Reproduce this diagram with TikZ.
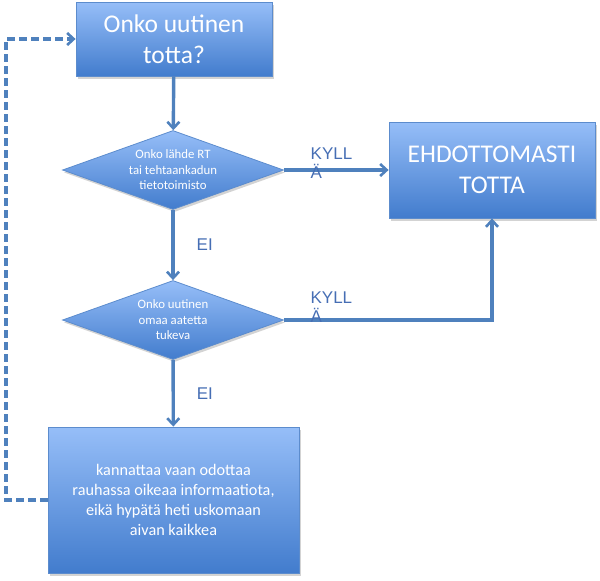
\documentclass[tikz,border=0pt]{standalone}
\usepackage{fontspec}
\setmainfont{Carlito}
\newfontfamily\labfont{Liberation Sans}
\usetikzlibrary{shapes.geometric,arrows.meta,shadows}
\definecolor{boxtop}{RGB}{150,190,248}
\definecolor{boxbot}{RGB}{66,124,205}
\definecolor{boxedge}{RGB}{92,140,205}
\definecolor{linec}{RGB}{79,129,189}
\definecolor{labc}{RGB}{70,110,180}
\tikzset{
  fillbox/.style={top color=boxtop, bottom color=boxbot, draw=boxedge, line width=0.8pt,
    drop shadow={shadow xshift=1.5pt, shadow yshift=-2.5pt, opacity=0.35},
    text=white, align=center, inner sep=0pt},
  rectbox/.style={fillbox, rectangle},
  decbox/.style={fillbox, diamond, aspect=2.8, font=\fontsize{12.8}{15.5}\selectfont},
  arr/.style={draw=linec, line width=3.4pt, -{Straight Barb[length=6.5pt,width=12pt,line width=2.6pt]}},
  dashline/.style={draw=linec, line width=3.2pt, dash pattern=on 8pt off 4pt,
    -{Straight Barb[length=6.5pt,width=12pt,line width=2.6pt]}},
  lab/.style={text=labc, font=\labfont\fontsize{17}{19}\selectfont, align=left, inner sep=0pt}
}
\begin{document}
\begin{tikzpicture}[x=1pt,y=-1pt]
\useasboundingbox (0,0) rectangle (600,581);
\node[rectbox, minimum width=196pt, minimum height=74pt, font=\fontsize{25.5}{31}\selectfont]
  (top) at (174,39) {Onko uutinen\\totta?};
\node[decbox, minimum width=221pt, minimum height=79pt] (d1) at (173,170)
  {Onko lähde RT\\tai tehtaankadun\\tietotoimisto};
\node[rectbox, minimum width=206pt, minimum height=96pt, font=\fontsize{25.5}{31}\selectfont]
  (e) at (492,170) {EHDOTTOMASTI\\TOTTA};
\node[decbox, minimum width=221pt, minimum height=79pt] (d2) at (173,320)
  {Onko uutinen\\omaa aatetta\\tukeva};
\node[rectbox, minimum width=251pt, minimum height=146pt, font=\fontsize{16.2}{20}\selectfont]
  (b) at (173.5,500) {kannattaa vaan odottaa\\rauhassa oikeaa informaatiota,\\eikä hypätä heti uskomaan\\aivan kaikkea};
\coordinate (c) at (6,500);
\draw[arr] (top) -- (d1);
\draw[arr] (d1) -- node[lab, anchor=west, xshift=22pt] {EI} (d2);
\draw[arr] (d2) -- node[lab, anchor=west, xshift=22pt] {EI} (b);
\draw[arr] (d1.east) -- node[lab, pos=0.24, anchor=west, yshift=7pt] {KYLL\\Ä} (e.west);
\draw[arr] (d2.east) -| node[lab, pos=0.06, anchor=west, yshift=13pt] {KYLL\\Ä} (e.south);
\draw[dashline] (b.west) -- (c) |- (top.west);
\end{tikzpicture}
\end{document}
